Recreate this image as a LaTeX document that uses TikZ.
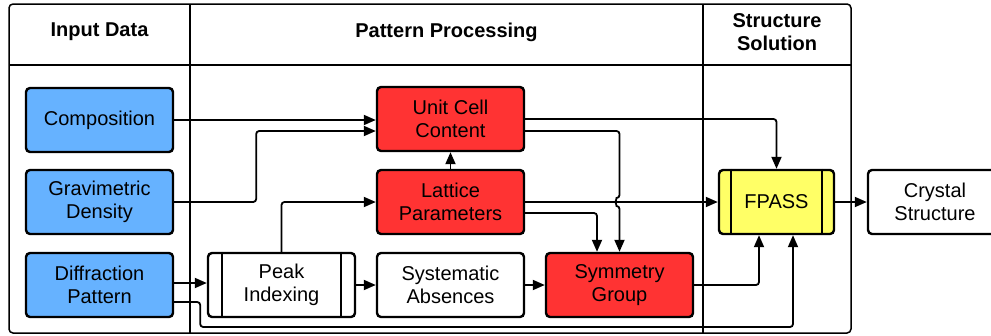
\documentclass[tikz,border=0pt]{standalone}
\usepackage{fontspec}
\setmainfont{Liberation Sans}
\usetikzlibrary{arrows.meta,calc}
\definecolor{inblue}{HTML}{66B2FF}
\definecolor{procred}{HTML}{FF3333}
\definecolor{fpyellow}{HTML}{FFFF66}
\begin{document}
\begin{tikzpicture}[x=1pt,y=-1pt,
  box/.style={draw=black,line width=2.4pt,rounded corners=4pt,minimum width=147pt,minimum height=64pt,align=center,font=\fontsize{20}{23.5}\selectfont,inner sep=0pt},
  inbox/.style={box,fill=inblue},
  redbox/.style={box,fill=procred},
  whitebox/.style={box,fill=white},
  frame/.style={line width=1.5pt},
  hdr/.style={font=\fontsize{20}{23.5}\selectfont\bfseries,align=center},
  arr/.style={line width=1.8pt,rounded corners=3pt,-{Triangle[length=12pt,width=10pt]}},
  bar/.style={line width=2.4pt}]
\useasboundingbox (0,0) rectangle (991,335);
% frame
\draw[frame,rounded corners=4pt] (9,4) rectangle (851,333);
\draw[frame] (9,65) -- (851,65);
\draw[frame] (190,4) -- (190,333);
\draw[frame] (703,4) -- (703,333);
\node[hdr] (h1) at (99.5,32) {Input Data};
\node[hdr] (h2) at (446.5,32) {Pattern Processing};
\node[hdr] (h3) at (777,32) {Structure\\Solution};
% nodes
\node[inbox] (comp) at (99.5,120) {Composition};
\node[inbox] (grav) at (99.5,202) {Gravimetric\\Density};
\node[inbox] (diff) at (99.5,285) {Diffraction\\Pattern};
\node[redbox] (ucc) at (450.5,119) {Unit Cell\\Content};
\node[redbox] (lat) at (450.5,202) {Lattice\\Parameters};
\node[whitebox] (sa) at (450.5,285) {Systematic\\Absences};
\node[redbox] (sym) at (619.5,285) {Symmetry\\Group};
\node[whitebox] (pk) at (281.5,285) {Peak\\Indexing};
\draw[bar] ([xshift=15pt]pk.north west) -- ([xshift=15pt]pk.south west);
\draw[bar] ([xshift=-15pt]pk.north east) -- ([xshift=-15pt]pk.south east);
\node[box,fill=fpyellow,minimum width=115pt] (fp) at (776.5,202) {FPASS};
\draw[bar] ([xshift=13pt]fp.north west) -- ([xshift=13pt]fp.south west);
\draw[bar] ([xshift=-13pt]fp.north east) -- ([xshift=-13pt]fp.south east);
\node[whitebox,minimum width=134pt] (cs) at (935,202) {Crystal\\Structure};
% connectors
\draw[arr] (comp.east) -- (comp.east -| ucc.west);
\draw[arr] (grav.east) -- ++(82,0) |- ([yshift=-12pt]ucc.west);
\draw[arr] (pk.north) |- (lat.west);
\draw[arr] (lat.north) -- (ucc.south);
\draw[arr] (ucc.east) -| (fp.north);
\coordinate (j) at (sym.north |- lat.east);
\draw[arr] ([yshift=-12pt]ucc.east) -| ([yshift=4pt]j) arc[start angle=90,end angle=270,radius=4pt] -- (sym.north);
\draw[arr] (lat.east) -- (fp.west);
\draw[arr] ([yshift=-11pt]lat.east) -| ([xshift=-22.5pt]sym.north);
\draw[arr] (pk.east) -- (sa.west);
\draw[arr] (sa.east) -- (sym.west);
\draw[arr] (sym.east) -| ([xshift=-17.5pt]fp.south);
\draw[arr] ([yshift=2pt]diff.east) -- ([yshift=2pt]pk.west);
\draw[arr] ([yshift=-17pt]diff.east) -- ++(26,0) -- ++(0,25) -| ([xshift=16.5pt]fp.south);
\draw[arr] (fp.east) -- (cs.west);
\end{tikzpicture}
\end{document}
